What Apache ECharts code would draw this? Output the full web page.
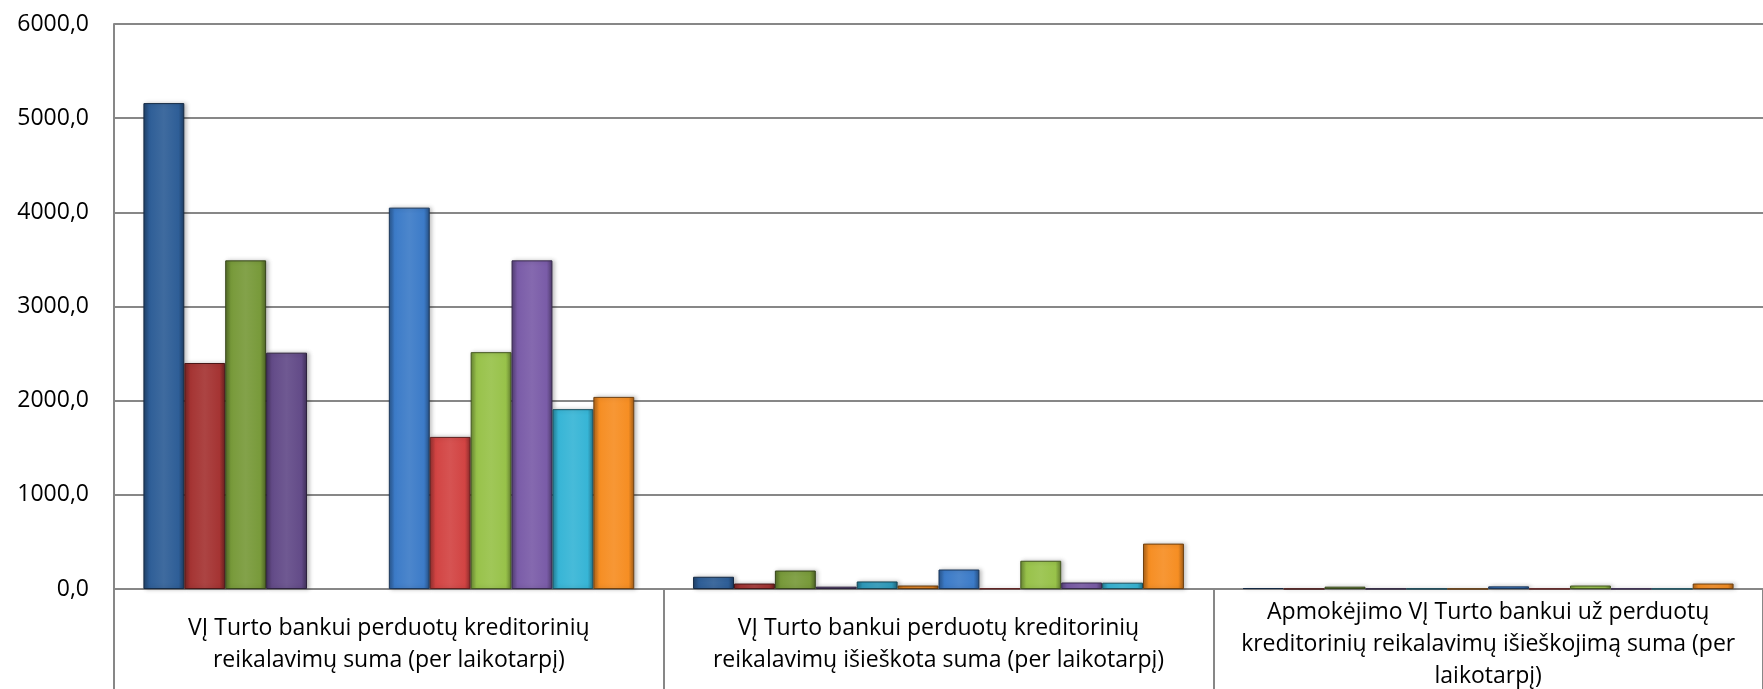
<!DOCTYPE html>
<html>
<head>
<meta charset="utf-8">
<script src="https://cdn.jsdelivr.net/npm/echarts@6/dist/echarts.min.js"></script>
<style>
html,body{margin:0;padding:0;background:#fff;}
#chart{width:1763px;height:689px;}
</style>
</head>
<body>
<div id="chart"></div>
<script>
// ---- data ----
const categories = [
  "VĮ Turto bankui perduotų kreditorinių\nreikalavimų suma (per laikotarpį)",
  "VĮ Turto bankui perduotų kreditorinių\nreikalavimų išieškota suma (per laikotarpį)",
  "Apmokėjimo VĮ Turto bankui už perduotų\nkreditorinių reikalavimų išieškojimą suma (per\nlaikotarpį)"
];
const seriesNames = ["1","2","3","4","5","6","7","8","9","10","11","12"];
const s1  = [5160, 130, 10];
const s2  = [2400,  58,  1];
const s3  = [3490, 196, 25];
const s4  = [2510,  25,  2];
const s5  = [null,  80,  2];
const s6  = [null,  37,  1];
const s7  = [4050, 207, 28];
const s8  = [1615,   5,  2];
const s9  = [2515, 300, 37];
const s10 = [3490,  69,  2];
const s11 = [1910,  67,  2];
const s12 = [2040, 482, 58];
const seriesValues = [s1,s2,s3,s4,s5,s6,s7,s8,s9,s10,s11,s12];
const yTicks = {min: 0, max: 6000, interval: 1000};

// ---- styles ----
const baseColors = ["#2E5E97","#A53433","#789A3A","#634B88","#2F9CBD","#E0811F",
                    "#3C7BC8","#D24443","#98C24A","#7A5CA8","#37B5D6","#F68E23"];
function shade(hex, f){
  const n = parseInt(hex.slice(1),16);
  let r=(n>>16)&255,g=(n>>8)&255,b=n&255;
  if(f>=0){ r=r+(255-r)*f; g=g+(255-g)*f; b=b+(255-b)*f; }
  else { r=r*(1+f); g=g*(1+f); b=b*(1+f); }
  return "rgb("+Math.round(r)+","+Math.round(g)+","+Math.round(b)+")";
}
const font = "'Open Sans', sans-serif";

const series = seriesValues.map((vals,i)=>({
  name: seriesNames[i],
  type: 'bar',
  data: vals,
  barGap: '0%',
  barCategoryGap: '10.7%',
  itemStyle: {
    color: {
      type:'linear', x:0, y:0, x2:1, y2:0,
      colorStops:[
        {offset:0, color: shade(baseColors[i], -0.3)},
        {offset:0.14, color: baseColors[i]},
        {offset:0.5, color: shade(baseColors[i], 0.08)},
        {offset:0.86, color: baseColors[i]},
        {offset:1, color: shade(baseColors[i], -0.35)}
      ]
    },
    borderColor: shade(baseColors[i], -0.55),
    borderWidth: 1,
    shadowColor: 'rgba(0,0,0,0.25)',
    shadowBlur: 4,
    shadowOffsetX: 2,
    shadowOffsetY: 0
  }
}));

const chart = echarts.init(document.getElementById('chart'), null, {renderer:'canvas'});
chart.setOption({
  animation: false,
  backgroundColor: '#fff',
  grid: {left: 114, right: 0, top: 24, bottom: 100, containLabel: false, outerBoundsMode: 'none'},
  xAxis: {
    type: 'category',
    data: categories,
    axisLine: {show: true, lineStyle: {color: '#878787', width: 2}},
    axisTick: {show: true, length: 100, alignWithLabel: false, lineStyle: {color: '#878787', width: 2}},
    axisLabel: {
      interval: 0,
      margin: 55,
      verticalAlign: 'middle',
      align: 'center',
      fontFamily: font,
      fontSize: 23,
      lineHeight: 32,
      color: '#000'
    },
    splitLine: {show: false}
  },
  yAxis: {
    type: 'value',
    min: yTicks.min, max: yTicks.max, interval: yTicks.interval,
    axisLine: {show: true, lineStyle: {color: '#878787', width: 2}},
    axisTick: {show: false},
    axisLabel: {
      margin: 25,
      fontFamily: font,
      fontSize: 23,
      color: '#000',
      formatter: v => v.toFixed(1).replace('.', ',')
    },
    splitLine: {show: true, lineStyle: {color: '#878787', width: 2}}
  },
  series: series
});
</script>
</body>
</html>
